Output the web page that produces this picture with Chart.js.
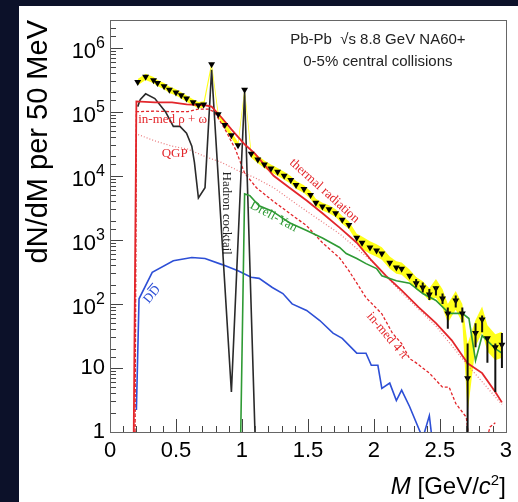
<!DOCTYPE html>
<html>
<head>
<meta charset="utf-8">
<script src="https://cdn.jsdelivr.net/npm/chart.js@4.4.0/dist/chart.umd.min.js"></script>
<style>
  body { margin: 0; background: #0c1129; }
  #panel { position: absolute; left: 19px; top: 6px; width: 499px; height: 496px; background: #fff; }
</style>
</head>
<body>
<div id="panel"><canvas id="myChart" width="499" height="496"></canvas></div>
<script>
// measured spectrum (black triangles)
var dataM = [0.21, 0.27, 0.33, 0.36, 0.41, 0.45, 0.50, 0.54, 0.58, 0.63, 0.67, 0.71, 0.77, 0.82, 0.87, 0.92, 0.97, 1.02, 1.07, 1.12,
             1.17, 1.22, 1.27, 1.32, 1.37, 1.41, 1.47, 1.52, 1.56, 1.61, 1.66, 1.71, 1.76, 1.81, 1.87, 1.91, 1.97, 2.02, 2.06, 2.12,
             2.17, 2.21, 2.27, 2.32, 2.37, 2.42, 2.47, 2.52, 2.56, 2.62, 2.67, 2.71, 2.77, 2.82, 2.86, 2.92, 2.97];
var dataY = [2.9e5, 3.5e5, 3.1e5, 2.8e5, 2.5e5, 2.2e5, 2.0e5, 1.8e5, 1.6e5, 1.4e5, 1.26e5, 1.3e5, 5.5e5, 9.1e4, 6.2e4, 4.3e4, 3.0e4, 2.2e5, 2.2e4, 1.8e4,
             1.5e4, 1.3e4, 1.15e4, 1.0e4, 8.6e3, 7.2e3, 6.2e3, 5.0e3, 3.8e3, 3.3e3, 3.0e3, 2.6e3, 2.05e3, 1.7e3, 1.08e3, 900, 760, 680, 610, 440,
             370, 355, 275, 210, 180, 140, 175, 121, 71, 113, 71, 6.9, 35, 57, 29, 21, 23];
// yellow systematic band (multiplicative half width per point)
var bandF = [1.12, 1.12, 1.12, 1.12, 1.12, 1.12, 1.12, 1.12, 1.12, 1.12, 1.12, 1.12, 1.1, 1.12, 1.12, 1.12, 1.12, 1.1, 1.15, 1.15,
             1.15, 1.15, 1.15, 1.15, 1.15, 1.15, 1.15, 1.15, 1.15, 1.15, 1.15, 1.15, 1.15, 1.15, 1.15, 1.25, 1.25, 1.25, 1.25, 1.25,
             1.25, 1.25, 1.25, 1.25, 1.25, 1.25, 1.4, 1.4, 1.4, 1.4, 1.4, 3.5, 1.6, 1.6, 1.6, 1.6, 1.6];
// statistical error bars
var barM  = [2.32, 2.37, 2.42, 2.47, 2.52, 2.56, 2.62, 2.67, 2.71, 2.77, 2.82, 2.86, 2.92, 2.97];
var barLo = [180, 150, 115, 135, 100, 41, 88, 51, 0.5, 21, 36, 12, 4.2, 10];
var barHi = [245, 215, 170, 186, 145, 88, 135, 88, 24, 50, 66, 30, 24, 35];

// thermal radiation (total)
var thermM = [0.18, 0.20, 0.34, 0.47, 0.58, 0.72, 0.77, 0.85, 0.92, 1.02, 1.10, 1.24, 1.36, 1.49, 1.61, 1.74, 1.87, 1.98, 2.09, 2.21, 2.34, 2.47, 2.59, 2.71, 2.82, 2.92, 2.97];
var thermY = [1, 1.45e5, 1.4e5, 1.4e5, 1.3e5, 1.26e5, 1.2e5, 7.9e4, 5.3e4, 3.1e4, 2.2e4, 1.0e4, 6.5e3, 4.1e3, 2.6e3, 1.55e3, 900, 480, 275, 162, 88, 50, 27, 11.8, 8.3, 4.2, 2.9];
// QGP
var qgpM = [0.19, 0.20, 0.34, 0.47, 0.59, 0.72, 0.85, 0.97, 1.10, 1.24, 1.49, 1.74, 1.99, 2.21, 2.47, 2.71, 2.97];
var qgpY = [1, 4.5e4, 3.5e4, 2.9e4, 2.6e4, 2.0e4, 1.6e4, 1.2e4, 9.3e3, 6.5e3, 2.8e3, 1.24e3, 450, 150, 45, 11, 2.7];
// in-medium rho + omega, continuing as in-med 4 pi
var medM = [0.19, 0.20, 0.34, 0.47, 0.59, 0.67, 0.74, 0.79, 0.87, 0.95, 1.02, 1.11, 1.23, 1.36, 1.49, 1.61, 1.74, 1.81, 1.94, 2.06,
            2.14, 2.21, 2.27, 2.32, 2.42, 2.52, 2.57, 2.62, 2.70, 2.73, 2.80, 2.83, 2.88, 2.92];
var medY = [1, 1.0e5, 1.02e5, 1.0e5, 1.0e5, 1.1e5, 1.1e5, 1.0e5, 5.4e4, 2.6e4, 1.1e4, 6.5e3, 4.1e3, 2.6e3, 1.66e3, 900, 520, 330, 125, 70,
            35, 24, 14, 12, 8.3, 5, 5, 2.8, 1.7, 0.5, null, 0.5, 1.2, 1.4];
// hadron cocktail
var cockM = [0.21, 0.23, 0.27, 0.34, 0.42, 0.48, 0.53, 0.58, 0.62, 0.64, 0.67, 0.72, 0.77, 0.92, 1.02, 1.10];
var cockY = [1.2e5, 1.56e5, 1.9e5, 1.6e5, 1.0e5, 5.9e4, 5.9e4, 4.6e4, 2.9e4, 1.6e4, 4.5e3, 6.5e3, 4.5e5, 4.2, 2.0e5, 0.8];
// Drell-Yan
var dyM = [0.99, 1.02, 1.06, 1.13, 1.23, 1.36, 1.49, 1.61, 1.74, 1.79, 1.87, 1.94, 2.02, 2.06, 2.17, 2.27, 2.37, 2.47, 2.57, 2.67, 2.72, 2.77, 2.82, 2.92, 2.97];
var dyY = [0.8, 5.2e3, 4.9e3, 3.4e3, 2.8e3, 1.85e3, 1.4e3, 1.07e3, 760, 610, 510, 425, 355, 275, 230, 210, 145, 113, 71, 71, 59, 13, 32, 20, 17];
// open charm DDbar
var ddM = [0.20, 0.22, 0.32, 0.48, 0.62, 0.72, 0.85, 0.97, 1.07, 1.13, 1.23, 1.31, 1.38, 1.49, 1.59, 1.69, 1.76, 1.87, 1.94, 1.98,
           2.03, 2.06, 2.12, 2.17, 2.21, 2.27, 2.37, 2.42, 2.44];
var ddY = [2.2, 120, 310, 470, 530, 510, 410, 330, 260, 250, 180, 145, 100, 79, 55, 35, 29, 17, 17, 11,
           11, 4.8, 5.8, 3.1, 4.5, 2.5, 0.8, 1.8, 0.8];

// curve labels, placed at (M, dN/dM) with rotation in degrees
var labelText = ['in-med \u03c1 + \u03c9', 'QGP', 'Hadron cocktail', 'Drell-Yan', 'thermal radiation', 'in-med 4 \u03c0', 'DD'];
var labelM    = [0.475, 0.49, 0.885, 1.24, 1.625, 2.10, 0.32];
var labelY    = [7.6e4, 2.2e4, 2.6e3, 2.3e3, 5.8e3, 32, 140];
var labelRot  = [0, 0, 90, 28, 42, 50, -50];
var labelCol  = ['#e3262b', '#e3262b', '#222', '#2e9a34', '#e3262b', '#e3262b', '#2d4fd6'];

function toPoints(xs, ys) {
    var pts = [];
    for (var i = 0; i < xs.length; i++) pts.push({ x: xs[i], y: ys[i] });
    return pts;
}

function curve(xs, ys, color, dash, width) {
    return {
        data: toPoints(xs, ys),
        borderColor: color,
        borderWidth: width,
        borderDash: dash,
        pointRadius: 0,
        fill: false,
        tension: 0,
        spanGaps: false
    };
}

function isDecade(v) {
    var l = Math.log10(v);
    return Math.abs(l - Math.round(l)) < 1e-6;
}

// frame, ROOT style inward ticks, y labels with exponents, titles
var rootAxes = {
    id: 'rootAxes',
    afterDraw: function (chart) {
        var ctx = chart.ctx, a = chart.chartArea;
        var xs = chart.scales.x, ys = chart.scales.y;
        ctx.save();
        ctx.strokeStyle = '#444';
        ctx.lineWidth = 1;
        ctx.beginPath();
        xs.ticks.forEach(function (t) {
            var px = Math.round(xs.getPixelForValue(t.value)) + 0.5;
            var major = Math.abs(t.value * 2 - Math.round(t.value * 2)) < 1e-6;
            ctx.moveTo(px, a.bottom);
            ctx.lineTo(px, a.bottom - (major ? 13 : 6));
        });
        ys.ticks.forEach(function (t) {
            if (t.value < ys.min || t.value > ys.max) return;
            var py = Math.round(ys.getPixelForValue(t.value)) + 0.5;
            ctx.moveTo(a.left, py);
            ctx.lineTo(a.left + (isDecade(t.value) ? 13 : 6), py);
        });
        ctx.stroke();
        ctx.strokeStyle = '#666';
        ctx.strokeRect(Math.round(a.left) + 0.5, Math.round(a.top) + 0.5, Math.round(a.right - a.left), Math.round(a.bottom - a.top));

        // y tick labels: 1, 10, 10^n
        ctx.fillStyle = '#000';
        ctx.textBaseline = 'middle';
        ctx.textAlign = 'right';
        ys.ticks.forEach(function (t) {
            if (!isDecade(t.value) || t.value > ys.max) return;
            var e = Math.round(Math.log10(t.value));
            var py = ys.getPixelForValue(t.value);
            var right = a.left - 5;
            ctx.font = '22px "Liberation Sans"';
            if (e < 2) {
                ctx.fillText(e === 0 ? '1' : '10', right, py);
                return;
            }
            ctx.font = '16px "Liberation Sans"';
            var ew = ctx.measureText(String(e)).width;
            ctx.fillText(String(e), right, py - 4);
            ctx.font = '22px "Liberation Sans"';
            ctx.fillText('10', right - ew, py + 4);
        });

        // x axis title with italic M and c
        var parts = [
            { t: 'M', f: 'italic 24px "Liberation Sans"' },
            { t: ' [GeV/', f: '24px "Liberation Sans"' },
            { t: 'c', f: 'italic 24px "Liberation Sans"' },
            { t: '2', f: '15px "Liberation Sans"', up: 9 },
            { t: ']', f: '24px "Liberation Sans"' }
        ];
        var total = 0;
        parts.forEach(function (p) { ctx.font = p.f; p.w = ctx.measureText(p.t).width; total += p.w; });
        var x = a.right - total, y = a.bottom + 62;
        ctx.textBaseline = 'alphabetic';
        ctx.textAlign = 'left';
        parts.forEach(function (p) { ctx.font = p.f; ctx.fillText(p.t, x, y - (p.up || 0)); x += p.w; });

        // header text
        ctx.font = '15px "Liberation Sans"';
        ctx.fillStyle = '#222';
        ctx.textAlign = 'center';
        ctx.textBaseline = 'middle';
        ctx.fillText('Pb-Pb  \u221as 8.8 GeV NA60+', a.right - 128, a.top + 20);
        ctx.fillText('0-5% central collisions', a.right - 128, a.top + 42);
        ctx.restore();
    }
};

// error bars and curve labels
var extras = {
    id: 'extras',
    afterDatasetsDraw: function (chart) {
        var ctx = chart.ctx, a = chart.chartArea;
        var xs = chart.scales.x, ys = chart.scales.y;
        ctx.save();
        ctx.beginPath();
        ctx.rect(a.left, a.top, a.right - a.left, a.bottom - a.top);
        ctx.clip();
        ctx.strokeStyle = '#111';
        ctx.lineWidth = 2;
        ctx.beginPath();
        for (var i = 0; i < barM.length; i++) {
            var px = xs.getPixelForValue(barM[i]);
            ctx.moveTo(px, ys.getPixelForValue(barLo[i]));
            ctx.lineTo(px, ys.getPixelForValue(barHi[i]));
        }
        ctx.stroke();

        ctx.textAlign = 'center';
        ctx.textBaseline = 'middle';
        for (var k = 0; k < labelText.length; k++) {
            ctx.save();
            ctx.translate(xs.getPixelForValue(labelM[k]), ys.getPixelForValue(labelY[k]));
            ctx.rotate(labelRot[k] * Math.PI / 180);
            ctx.font = '13px "Liberation Serif"';
            ctx.fillStyle = labelCol[k];
            ctx.fillText(labelText[k], 0, 0);
            if (labelText[k] === 'DD') {
                // anti-D bar over the second D
                var w = ctx.measureText('DD').width;
                ctx.strokeStyle = labelCol[k];
                ctx.lineWidth = 1;
                ctx.beginPath();
                ctx.moveTo(0.5, -7);
                ctx.lineTo(w / 2, -7);
                ctx.stroke();
            }
            ctx.restore();
        }
        ctx.restore();
    }
};

var bandLo = [], bandHi = [];
for (var i = 0; i < dataM.length; i++) {
    bandLo.push({ x: dataM[i], y: dataY[i] / bandF[i] });
    bandHi.push({ x: dataM[i], y: dataY[i] * bandF[i] });
}

var datasets = [
    {
        data: toPoints(dataM, dataY),
        showLine: false,
        pointStyle: 'triangle',
        pointRotation: 180,
        pointRadius: 4,
        pointBackgroundColor: '#000',
        pointBorderColor: '#000',
        pointBorderWidth: 0
    },
    curve(dyM, dyY, '#2e9a34', [], 1.6),
    curve(thermM, thermY, '#e3262b', [], 1.8),
    curve(cockM, cockY, '#2a2a2a', [], 1.6),
    curve(medM, medY, '#e3262b', [3, 2], 1.3),
    curve(qgpM, qgpY, '#e9777a', [1, 2], 1.2),
    curve(ddM, ddY, '#2d4fd6', [], 1.6),
    { data: bandLo, borderWidth: 0, pointRadius: 0, tension: 0, fill: false },
    { data: bandHi, borderWidth: 0, pointRadius: 0, tension: 0, fill: '-1', backgroundColor: '#ffff1a' }
];

new Chart(document.getElementById('myChart'), {
    type: 'line',
    data: { datasets: datasets },
    options: {
        responsive: false,
        animation: false,
        layout: { padding: { top: 14, right: 11, left: 0, bottom: 0 } },
        plugins: { legend: { display: false }, tooltip: { enabled: false } },
        scales: {
            x: {
                type: 'linear',
                min: 0,
                max: 3,
                grid: { display: false, drawTicks: false },
                border: { display: false },
                afterFit: function (scale) { scale.height = 70; },
                ticks: {
                    stepSize: 0.1,
                    autoSkip: false,
                    maxRotation: 0,
                    padding: 6,
                    color: '#000',
                    font: { family: 'Liberation Sans', size: 22 },
                    callback: function (v) {
                        if (Math.abs(v * 2 - Math.round(v * 2)) > 1e-6) return '';
                        return String(Math.round(v * 10) / 10);
                    }
                }
            },
            y: {
                type: 'logarithmic',
                min: 1,
                max: 2.7e6,
                grid: { display: false, drawTicks: false },
                border: { display: false },
                afterFit: function (scale) { scale.width = 91; },
                title: {
                    display: true,
                    text: 'dN/dM per 50 MeV',
                    align: 'end',
                    color: '#000',
                    font: { family: 'Liberation Sans', size: 29 },
                    padding: { top: 3, bottom: 0 }
                },
                ticks: { display: false, autoSkip: false }
            }
        }
    },
    plugins: [rootAxes, extras]
});
</script>
</body>
</html>
